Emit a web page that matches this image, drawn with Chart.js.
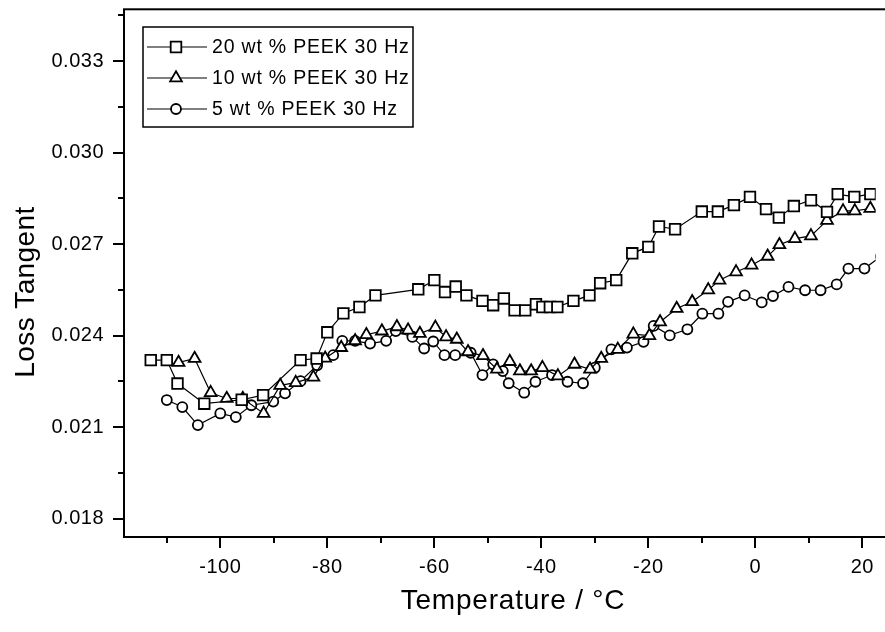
<!DOCTYPE html>
<html>
<head>
<meta charset="utf-8">
<script src="https://cdn.jsdelivr.net/npm/chart.js@4.4.1/dist/chart.umd.min.js"></script>
<style>
  html, body { margin: 0; padding: 0; background: #fff; overflow: hidden; }
</style>
</head>
<body>
<canvas id="chart" width="885" height="632"></canvas>
<script>
// ticks
const xMajor = [-100, -80, -60, -40, -20, 0, 20];
const xMinor = [-110, -90, -70, -50, -30, -10, 10];
const yMajor = [0.018, 0.021, 0.024, 0.027, 0.030, 0.033];
const yMinor = [0.0195, 0.0225, 0.0255, 0.0285, 0.0315, 0.0345];

const seriesNames = ['20 wt % PEEK 30 Hz', '10 wt % PEEK 30 Hz', '5 wt % PEEK 30 Hz'];

// 20 wt % (squares)
const temp20 = [-113, -110, -108, -103, -96, -92, -85, -82, -80, -77, -74, -71, -63, -60, -58, -56, -54, -51, -49, -47,
  -45, -43, -41, -39.8, -38.4, -37, -34, -31, -29, -26, -23, -20, -18, -15, -10, -7, -4, -1, 2, 4.4,
  7.2, 10.4, 13.4, 15.4, 18.5, 21.5];
const tan20 = [0.0232, 0.0232, 0.02243, 0.02177, 0.0219, 0.02205, 0.0232, 0.02325, 0.02411, 0.02473, 0.02494, 0.02532,
  0.02552, 0.02582, 0.02543, 0.02561, 0.02532, 0.02514, 0.0250, 0.02522, 0.02483, 0.02483, 0.02503, 0.02494, 0.02494,
  0.02494, 0.02514, 0.02532, 0.02572, 0.02582, 0.0267, 0.02691, 0.02758, 0.02749, 0.02807, 0.02807, 0.02828, 0.02855,
  0.02815, 0.02787, 0.02825, 0.02844, 0.02806, 0.02864, 0.02855, 0.02864];

// 10 wt % (triangles)
const temp10 = [-107.8, -104.8, -101.8, -98.8, -95.8, -91.9, -88.8, -85.9, -82.6, -80.4, -77.4, -74.8, -72.7, -69.8,
  -67.0, -64.9, -62.7, -59.8, -57.8, -55.8, -53.7, -50.9, -48.3, -45.9, -44.0, -41.9, -39.8, -36.9, -33.8, -30.9, -28.8,
  -25.7, -22.8, -19.8, -17.8, -14.7, -11.8, -8.8, -6.7, -3.6, -0.7, 2.3, 4.5, 7.4, 10.4, 13.4, 16.4, 18.6, 21.5];
const tan10 = [0.02312, 0.02325, 0.02213, 0.02194, 0.02194, 0.02145, 0.02237, 0.02246, 0.02264, 0.02326, 0.02361,
  0.02383, 0.02403, 0.02415, 0.02429, 0.02418, 0.02407, 0.02427, 0.02396, 0.02388, 0.02347, 0.02334, 0.0229, 0.02315,
  0.02284, 0.02284, 0.02295, 0.02268, 0.02306, 0.0229, 0.02325, 0.02355, 0.02405, 0.024, 0.02445, 0.02489, 0.02511,
  0.0255, 0.02582, 0.02609, 0.02631, 0.0266, 0.02698, 0.02718, 0.02727, 0.02778, 0.02809, 0.02809, 0.02817];

// 5 wt % (circles)
const temp5 = [-110, -107.1, -104.2, -100, -97.1, -94.2, -90.1, -87.9, -85, -81.9, -78.9, -77.2, -74.8, -72, -69,
  -67.2, -64.1, -61.9, -60.2, -58.1, -56.1, -53.2, -51, -49, -47.2, -46.1, -43.2, -41.1, -38, -35.1, -32.2, -30,
  -26.9, -24, -20.9, -19, -16, -12.7, -9.9, -6.9, -5.1, -2, 1.2, 3.3, 6.2, 9.3, 12.2, 15.2, 17.4, 20.4, 23.5];
const tan5 = [0.02189, 0.02166, 0.02107, 0.02145, 0.02133, 0.02172, 0.02184, 0.02211, 0.02251, 0.02303, 0.02336,
  0.02383, 0.02383, 0.02374, 0.02383, 0.02415, 0.02396, 0.02358, 0.02381, 0.02336, 0.02336, 0.02344, 0.02271, 0.02306,
  0.02284, 0.02244, 0.02213, 0.02249, 0.02271, 0.02249, 0.02244, 0.02295, 0.02355, 0.02361, 0.0238, 0.02432, 0.02401,
  0.02421, 0.02472, 0.02472, 0.02511, 0.02532, 0.02509, 0.0253, 0.0256, 0.02549, 0.02549, 0.02568, 0.0262, 0.0262,
  0.0266];

const FONT = "'Liberation Sans', Arial, Helvetica, sans-serif";

function pts(xs, ys) {
  return xs.map((x, i) => ({ x: x, y: ys[i] }));
}

function makeSet(label, xs, ys, style, radius) {
  return {
    label: label,
    data: pts(xs, ys),
    showLine: true,
    borderColor: '#000',
    borderWidth: 1.2,
    pointStyle: style,
    pointRadius: radius,
    pointBorderWidth: 1.8,
    pointBorderColor: '#000',
    pointBackgroundColor: '#fff',
    tension: 0
  };
}

// frame, tick marks, axis titles and inset legend
const decorPlugin = {
  id: 'decor',
  beforeDraw(chart) {
    chart.ctx.letterSpacing = '0.5px';
  },
  afterDatasetsDraw(chart) {
    const ctx = chart.ctx;
    const a = chart.chartArea;
    const xs = chart.scales.x, ys = chart.scales.y;
    ctx.save();
    ctx.strokeStyle = '#000';
    ctx.lineWidth = 2;
    ctx.strokeRect(a.left, a.top, a.right - a.left + 20, a.bottom - a.top);

    ctx.lineWidth = 2;
    ctx.beginPath();
    xMajor.forEach(v => { const p = Math.round(xs.getPixelForValue(v)); ctx.moveTo(p, a.bottom); ctx.lineTo(p, a.bottom + 11); });
    xMinor.forEach(v => { const p = Math.round(xs.getPixelForValue(v)); ctx.moveTo(p, a.bottom); ctx.lineTo(p, a.bottom + 6); });
    yMajor.forEach(v => { const p = Math.round(ys.getPixelForValue(v)); ctx.moveTo(a.left, p); ctx.lineTo(a.left - 11, p); });
    yMinor.forEach(v => { const p = Math.round(ys.getPixelForValue(v)); ctx.moveTo(a.left, p); ctx.lineTo(a.left - 6, p); });
    ctx.stroke();

    // axis titles
    ctx.fillStyle = '#000';
    ctx.font = '28px ' + FONT;
    ctx.letterSpacing = '0.8px';
    ctx.textAlign = 'center';
    ctx.textBaseline = 'middle';
    ctx.fillText('Temperature / °C', 513, 601);
    ctx.save();
    ctx.translate(26, 292);
    ctx.rotate(-Math.PI / 2);
    ctx.letterSpacing = '0.4px';
    ctx.fillText('Loss Tangent', 0, 0);
    ctx.restore();

    // legend
    const box = { x: 143, y: 27, w: 270, h: 100 };
    ctx.lineWidth = 1.5;
    ctx.fillStyle = '#fff';
    ctx.fillRect(box.x, box.y, box.w, box.h);
    ctx.strokeRect(box.x, box.y, box.w, box.h);
    ctx.font = '19.5px ' + FONT;
    ctx.letterSpacing = '0.8px';
    ctx.textAlign = 'left';
    chart.data.datasets.forEach((ds, i) => {
      const y = box.y + 20 + i * 31;
      ctx.strokeStyle = '#000';
      ctx.lineWidth = 1.2;
      ctx.beginPath();
      ctx.moveTo(box.x + 4, y);
      ctx.lineTo(box.x + 64, y);
      ctx.stroke();
      ctx.fillStyle = '#fff';
      ctx.lineWidth = 1.8;
      Chart.helpers.drawPoint(ctx, { pointStyle: ds.pointStyle, radius: ds.pointRadius, rotation: 0, borderWidth: 1.8 }, box.x + 33, y);
      ctx.fillStyle = '#000';
      ctx.fillText(ds.label, box.x + 69, y + 1);
    });
    ctx.restore();
  }
};

new Chart(document.getElementById('chart'), {
  type: 'scatter',
  data: {
    datasets: [
      makeSet(seriesNames[0], temp20, tan20, 'rect', 7.5),
      makeSet(seriesNames[1], temp10, tan10, 'triangle', 6.8),
      makeSet(seriesNames[2], temp5, tan5, 'circle', 5)
    ]
  },
  options: {
    responsive: false,
    animation: false,
    devicePixelRatio: 1,
    layout: { padding: { top: 9, left: 0, right: 0, bottom: 0 } },
    plugins: { legend: { display: false }, tooltip: { enabled: false } },
    scales: {
      x: {
        type: 'linear',
        min: -118,
        max: 22.5,
        afterBuildTicks: s => { s.ticks = xMajor.map(v => ({ value: v })); },
        afterFit: s => { s.height = 95; s.paddingLeft = 0; s.paddingRight = 0; },
        grid: { display: false, drawTicks: true, tickLength: 10 },
        border: { display: false },
        ticks: {
          color: '#000',
          font: { family: FONT, size: 20 },
          padding: 8,
          maxRotation: 0,
          autoSkip: false,
          callback: v => String(v)
        }
      },
      y: {
        type: 'linear',
        min: 0.0174,
        max: 0.0347,
        afterBuildTicks: s => { s.ticks = yMajor.map(v => ({ value: v })); },
        afterFit: s => { s.width = 124; s.paddingTop = 0; s.paddingBottom = 0; },
        grid: { display: false, drawTicks: true, tickLength: 10 },
        border: { display: false },
        ticks: {
          color: '#000',
          font: { family: FONT, size: 20 },
          padding: 10,
          autoSkip: false,
          callback: v => v.toFixed(3)
        }
      }
    }
  },
  plugins: [decorPlugin]
});
</script>
</body>
</html>
